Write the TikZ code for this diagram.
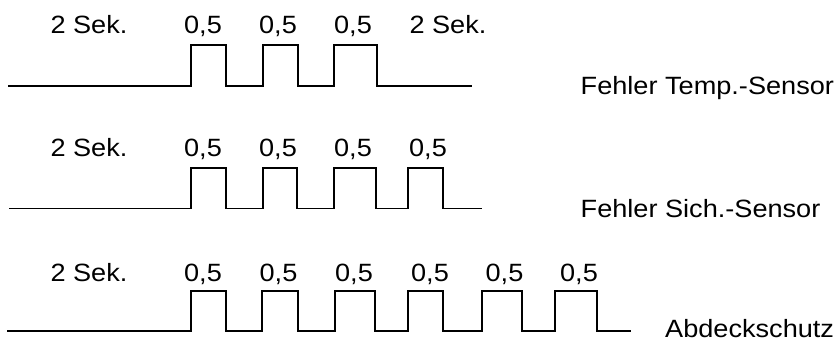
\documentclass[tikz,border=0pt]{standalone}
\usepackage{fontspec}
\setmainfont[FakeStretch=1.085]{Liberation Sans}
\begin{document}
\begin{tikzpicture}[x=1pt,y=-1pt,
  wave/.style={line width=1.8pt, line join=miter},
  lbl/.style={inner sep=0pt, font=\fontsize{25}{30}\selectfont}]
\useasboundingbox (0,0) rectangle (836,342);
% Row 1
\draw[wave] (8,86) -| (191,45) -| (226,86) -| (263,45) -| (298,86) -| (334,45) -| (377,86) -- (472,86);
\node[lbl, anchor=base] (r1a) at (89,33.3) {2 Sek.};
\node[lbl, anchor=base] (r1b) at (203,33.3) {0,5};
\node[lbl, anchor=base] (r1c) at (278,33.3) {0,5};
\node[lbl, anchor=base] (r1d) at (353,33.3) {0,5};
\node[lbl, anchor=base] (r1e) at (448,33.3) {2 Sek.};
\node[lbl, anchor=base west] (t1) at (580.5,94.3) {Fehler Temp.-Sensor};
% Row 2
\draw[wave] (9,208.5) -| (191,168) -| (226,208.5) -| (263,168) -| (297,208.5) -| (334,168) -| (376,208.5) -| (408,168) -| (443,208.5) -- (482,208.5);
\node[lbl, anchor=base] (r2a) at (89,157) {2 Sek.};
\node[lbl, anchor=base] (r2b) at (203,157) {0,5};
\node[lbl, anchor=base] (r2c) at (278,157) {0,5};
\node[lbl, anchor=base] (r2d) at (353,157) {0,5};
\node[lbl, anchor=base] (r2e) at (428,157) {0,5};
\node[lbl, anchor=base west] (t2) at (580.5,217.3) {Fehler Sich.-Sensor};
% Row 3
\draw[wave] (7,331) -| (191,291) -| (226,331) -| (262,291) -| (298,331) -| (335,291) -| (375,331) -| (408,291) -| (443,331) -| (482,291) -| (522,331) -| (555,291) -| (597,331) -- (631,331);
\node[lbl, anchor=base] (r3a) at (89,281) {2 Sek.};
\node[lbl, anchor=base] (r3b) at (203,281) {0,5};
\node[lbl, anchor=base] (r3c) at (278.5,281) {0,5};
\node[lbl, anchor=base] (r3d) at (354,281) {0,5};
\node[lbl, anchor=base] (r3e) at (430,281) {0,5};
\node[lbl, anchor=base] (r3f) at (504.5,281) {0,5};
\node[lbl, anchor=base] (r3g) at (579,281) {0,5};
\node[lbl, anchor=base west, text depth=0pt] (t3) at (665,337.5) {Abdeckschutz};
\end{tikzpicture}
\end{document}
